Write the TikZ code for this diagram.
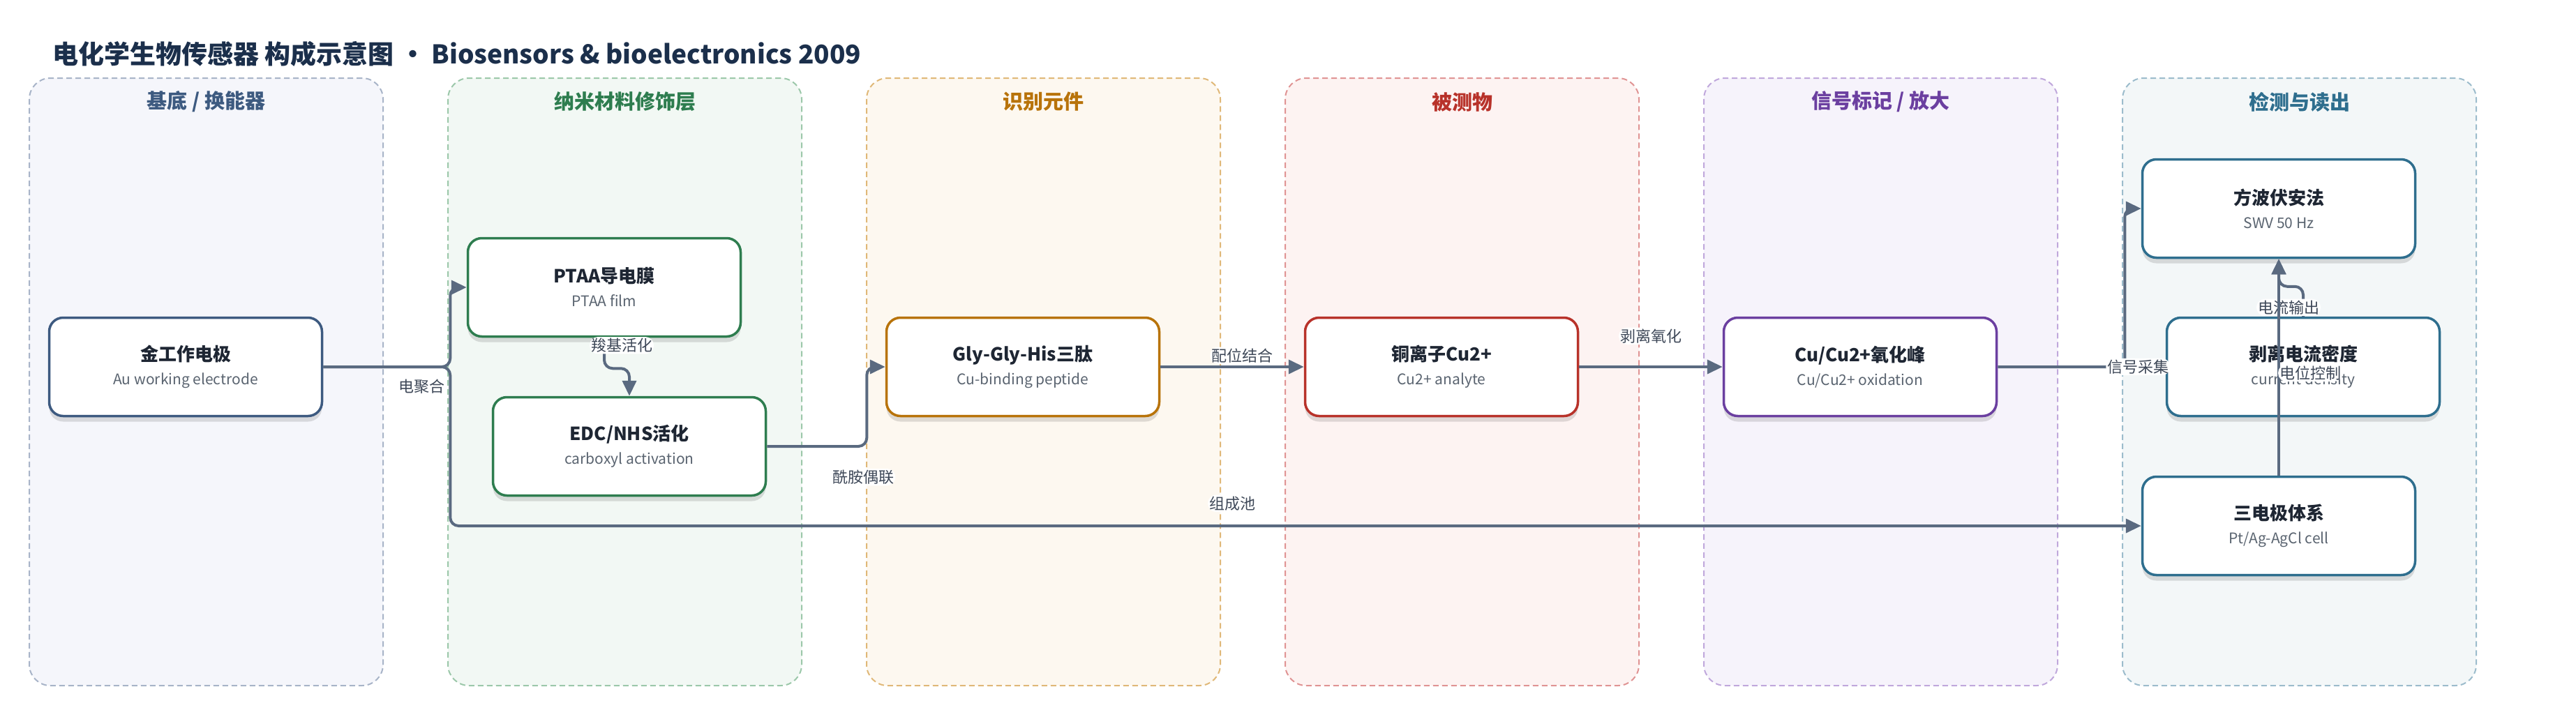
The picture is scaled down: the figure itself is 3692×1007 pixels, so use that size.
\documentclass[tikz,border=0pt]{standalone}
\usepackage{fontspec}
\setmainfont{Noto Sans CJK SC}
\usetikzlibrary{arrows.meta, positioning, shadows}

\definecolor{linegray}{HTML}{5A6A80}
\definecolor{labelgray}{HTML}{3E4858}
\definecolor{titlenavy}{HTML}{1B2F4B}
\definecolor{maintext}{HTML}{1E2633}
\definecolor{subgray}{HTML}{5A6470}
% cores das faixas
\definecolor{nodeA}{HTML}{3D5A80}
\definecolor{nodeB}{HTML}{2E7D4F}
\definecolor{nodeC}{HTML}{B8730A}
\definecolor{nodeD}{HTML}{B8322A}
\definecolor{nodeE}{HTML}{6B3FA0}
\definecolor{nodeF}{HTML}{2E6E8E}
\definecolor{laneAfill}{HTML}{F5F6FB}
\definecolor{laneBfill}{HTML}{F2F8F4}
\definecolor{laneCfill}{HTML}{FDF8F0}
\definecolor{laneDfill}{HTML}{FDF3F2}
\definecolor{laneEfill}{HTML}{F6F3FB}
\definecolor{laneFfill}{HTML}{F3F7F8}
\definecolor{laneAline}{HTML}{A8B4C8}
\definecolor{laneBline}{HTML}{9CC8AA}
\definecolor{laneCline}{HTML}{E0B878}
\definecolor{laneDline}{HTML}{E09494}
\definecolor{laneEline}{HTML}{C0A8DC}
\definecolor{laneFline}{HTML}{9CBCCC}

\tikzstyle{arrow} = [line width=4pt, draw=linegray, rounded corners=12pt,
    -{Triangle[length=22pt, width=20pt]}]
\tikzstyle{block} = [
    rectangle, rounded corners=20pt, minimum width=391pt, minimum height=141pt,
    text centered, align=center, fill=white, line width=3.5pt,
    font=\fontsize{26}{34}\selectfont,
    drop shadow={shadow xshift=0pt, shadow yshift=-8pt, fill=black, opacity=0.12}
]
\tikzstyle{lane} = [
    rectangle, rounded corners=30pt, minimum width=507pt, minimum height=871pt,
    line width=2pt, dash pattern=on 8pt off 5pt
]
\tikzstyle{lanehead} = [font=\fontsize{29}{34}\selectfont\bfseries]
\tikzstyle{elabel} = [font=\fontsize{22}{26}\selectfont, text=labelgray, fill=white, inner sep=2pt]
\newcommand{\blocktext}[2]{{\bfseries\color{maintext}#1}\\{\fontsize{21}{26}\selectfont\color{subgray}#2}}

\begin{document}
\begin{tikzpicture}[x=1pt, y=-1pt, node distance=600pt]
\useasboundingbox (0,0) rectangle (3692,1007);

% Titulo
\node (Title) [anchor=west, inner sep=0pt, font=\fontsize{37}{44}\selectfont\bfseries, text=titlenavy] at (75,77)
    {电化学生物传感器 构成示意图 • Biosensors \& bioelectronics 2009};

% Faixas
\node (L_1) [lane, draw=laneAline, fill=laneAfill] at (295.5,547.5) {};
\node (L_2) [lane, draw=laneBline, fill=laneBfill, right of=L_1] {};
\node (L_3) [lane, draw=laneCline, fill=laneCfill, right of=L_2] {};
\node (L_4) [lane, draw=laneDline, fill=laneDfill, right of=L_3] {};
\node (L_5) [lane, draw=laneEline, fill=laneEfill, right of=L_4] {};
\node (L_6) [lane, draw=laneFline, fill=laneFfill, right of=L_5] {};

\node (H_1) [lanehead, text=nodeA, yshift=-35pt] at (L_1.north) {基底 / 换能器};
\node (H_2) [lanehead, text=nodeB, yshift=-35pt] at (L_2.north) {纳米材料修饰层};
\node (H_3) [lanehead, text=nodeC, yshift=-35pt] at (L_3.north) {识别元件};
\node (H_4) [lanehead, text=nodeD, yshift=-35pt] at (L_4.north) {被测物};
\node (H_5) [lanehead, text=nodeE, yshift=-35pt] at (L_5.north) {信号标记 / 放大};
\node (H_6) [lanehead, text=nodeF, yshift=-35pt] at (L_6.north) {检测与读出};

% Blocos
\node (Au_electrode) [block, draw=nodeA] at (266,526) {\blocktext{金工作电极}{Au working electrode}};
\node (PTAA_film) [block, draw=nodeB, right of=Au_electrode, yshift=114pt] {\blocktext{PTAA导电膜}{PTAA film}};
\node (EDC_NHS) [block, draw=nodeB, right of=Au_electrode, xshift=36pt, yshift=-114pt] {\blocktext{EDC/NHS活化}{carboxyl activation}};
\node (Peptide) [block, draw=nodeC, right of=Au_electrode, xshift=600pt] {\blocktext{Gly-Gly-His三肽}{Cu-binding peptide}};
\node (Cu_ion) [block, draw=nodeD, right of=Peptide] {\blocktext{铜离子Cu2+}{Cu2+ analyte}};
\node (Cu_peak) [block, draw=nodeE, right of=Cu_ion] {\blocktext{Cu/Cu2+氧化峰}{Cu/Cu2+ oxidation}};
\node (Current) [block, draw=nodeF, right of=Cu_peak, xshift=35pt] {\blocktext{剥离电流密度}{current density}};
\node (SWV) [block, draw=nodeF, right of=Cu_peak, yshift=227pt] {\blocktext{方波伏安法}{SWV 50 Hz}};
\node (Cell) [block, draw=nodeF, right of=Cu_peak, yshift=-228pt] {\blocktext{三电极体系}{Pt/Ag-AgCl cell}};

% Conexoes
\draw [arrow] (Au_electrode.east) -- ++(182,0) -- ++(0,228) -- node[elabel, pos=0.4625, above=18pt] {组成池} (Cell.west);
\draw [arrow] (Au_electrode.east) -- ++(182,0) node[elabel, anchor=north east, xshift=-4pt, yshift=-14pt] {电聚合} |- (PTAA_film.west);
\draw [arrow] (PTAA_film.south) -- node[elabel, pos=0.25, xshift=25pt] {羧基活化} ++(0,44) -| (EDC_NHS.north);
\draw [arrow] (EDC_NHS.east) -- ++(143,0) node[elabel, below=30pt, xshift=-5pt] {酰胺偶联} |- (Peptide.west);
\draw [arrow] (Peptide) -- node[elabel, pos=0.57, above=2pt] {配位结合} (Cu_ion);
\draw [arrow] (Cu_ion) -- node[elabel, above=30pt] {剥离氧化} (Cu_peak);
\draw [arrow] (Cu_peak.east) -- ++(182,0) node[elabel, xshift=19pt] {信号采集} |- (SWV.west);
\draw [arrow] (Current.north) -- node[elabel, pos=0.3, xshift=-21pt] {电流输出} ++(0,-43) -| (SWV.south);
\draw [arrow] (Cell.north) -- node[elabel, pos=0.473, xshift=45pt] {电位控制} (SWV.south);

\end{tikzpicture}
\end{document}
